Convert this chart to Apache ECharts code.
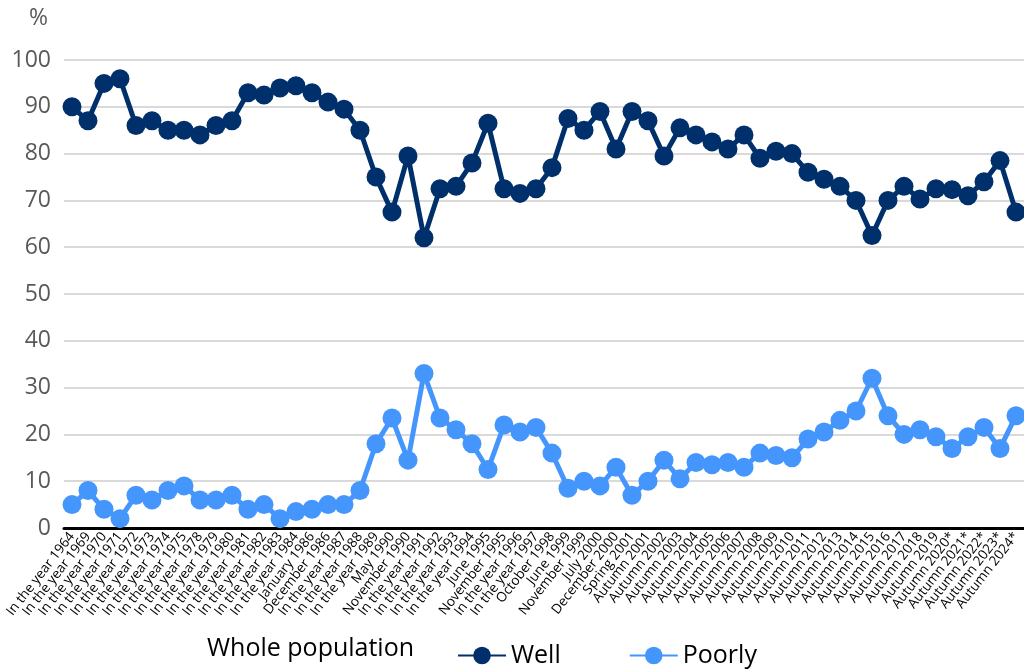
<!DOCTYPE html>
<html>
<head>
<meta charset="utf-8">
<script src="https://cdn.jsdelivr.net/npm/echarts@6/dist/echarts.min.js"></script>
<style>
  html, body { margin: 0; padding: 0; background: #fff; }
  #chart { width: 1024px; height: 671px; }
</style>
</head>
<body>
<div id="chart"></div>
<script>
const categories = [
  'In the year 1964', 'In the year 1969', 'In the year 1970', 'In the year 1971', 'In the year 1972',
  'In the year 1973', 'In the year 1974', 'In the year 1975', 'In the year 1978', 'In the year 1979',
  'In the year 1980', 'In the year 1981', 'In the year 1982', 'In the year 1983', 'In the year 1984',
  'January 1986', 'December 1986', 'In the year 1987', 'In the year 1988', 'In the year 1989',
  'May 1990', 'November 1990', 'In the year 1991', 'In the year 1992', 'In the year 1993',
  'In the year 1994', 'June 1995', 'November 1995', 'In the year 1996', 'In the year 1997',
  'October 1998', 'June 1999', 'November 1999', 'July 2000', 'December 2000',
  'Spring 2001', 'Autumn 2001', 'Autumn 2002', 'Autumn 2003', 'Autumn 2004',
  'Autumn 2005', 'Autumn 2006', 'Autumn 2007', 'Autumn 2008', 'Autumn 2009',
  'Autumn 2010', 'Autumn 2011', 'Autumn 2012', 'Autumn 2013', 'Autumn 2014',
  'Autumn 2015', 'Autumn 2016', 'Autumn 2017', 'Autumn 2018', 'Autumn 2019',
  'Autumn 2020*', 'Autumn 2021*', 'Autumn 2022*', 'Autumn 2023*', 'Autumn 2024*'
]

const well = [
  90, 87, 95, 96, 86, 87, 85, 85, 84, 86,
  87, 93, 92.5, 94, 94.5, 93, 91, 89.5, 85, 75,
  67.5, 79.5, 62, 72.5, 73, 78, 86.5, 72.5, 71.5, 72.5,
  77, 87.5, 85, 89, 81, 89, 87, 79.5, 85.5, 84,
  82.5, 81, 84, 79, 80.5, 80, 76, 74.5, 73, 70,
  62.5, 70, 73, 70.3, 72.5, 72.3, 71, 74, 78.5, 67.5
]

const poorly = [
  5, 8, 4, 2, 7, 6, 8, 9, 6, 6,
  7, 4, 5, 2, 3.5, 4, 5, 5, 8, 18,
  23.5, 14.5, 33, 23.5, 21, 18, 12.5, 22, 20.5, 21.5,
  16, 8.5, 10, 9, 13, 7, 10, 14.5, 10.5, 14,
  13.5, 14, 13, 16, 15.5, 15, 19, 20.5, 23, 25,
  32, 24, 20, 21, 19.5, 17, 19.5, 21.5, 17, 24
]

const yTicks = [0, 10, 20, 30, 40, 50, 60, 70, 80, 90, 100]

const font = '"Open Sans", "Noto Sans", sans-serif'
const chart = echarts.init(document.getElementById('chart'))

const option = {
  animation: false,
  textStyle: { fontFamily: font },
  grid: { left: 64, right: 0, top: 60, bottom: 143, containLabel: false },
  graphic: [
    { type: 'text', left: 29, top: 7, style: { text: '%', fontSize: 23, fill: '#595959', fontFamily: font } },
    { type: 'text', left: 207, top: 636, style: { text: 'Whole population', fontSize: 25, fill: '#000', fontFamily: font } }
  ],
  legend: {
    left: 452,
    top: 638,
    itemWidth: 48,
    itemHeight: 22,
    itemGap: 68,
    textStyle: { fontSize: 25, color: '#000', fontFamily: font },
    data: ['Well', 'Poorly']
  },
  xAxis: {
    type: 'category',
    data: categories,
    boundaryGap: true,
    axisLine: { lineStyle: { color: '#000', width: 3 } },
    axisTick: { show: false },
    axisLabel: { interval: 0, rotate: 52, fontSize: 13.5, color: '#000', margin: 6, fontFamily: font }
  },
  yAxis: {
    type: 'value',
    min: yTicks[0],
    max: yTicks[yTicks.length - 1],
    interval: 10,
    axisLine: { show: false },
    axisTick: { show: false },
    splitLine: { lineStyle: { color: '#d9d9d9', width: 2 } },
    axisLabel: { fontSize: 23, color: '#595959', margin: 13, fontFamily: font }
  },
  series: [
    {
      name: 'Well',
      type: 'line',
      data: well,
      symbol: 'circle',
      symbolSize: 19,
      lineStyle: { width: 5, color: '#00306b' },
      itemStyle: { color: '#00306b' }
    },
    {
      name: 'Poorly',
      type: 'line',
      data: poorly,
      symbol: 'circle',
      symbolSize: 19,
      lineStyle: { width: 5, color: '#4596fc' },
      itemStyle: { color: '#4596fc' }
    }
  ]
}

chart.setOption(option)
</script>
</body>
</html>
